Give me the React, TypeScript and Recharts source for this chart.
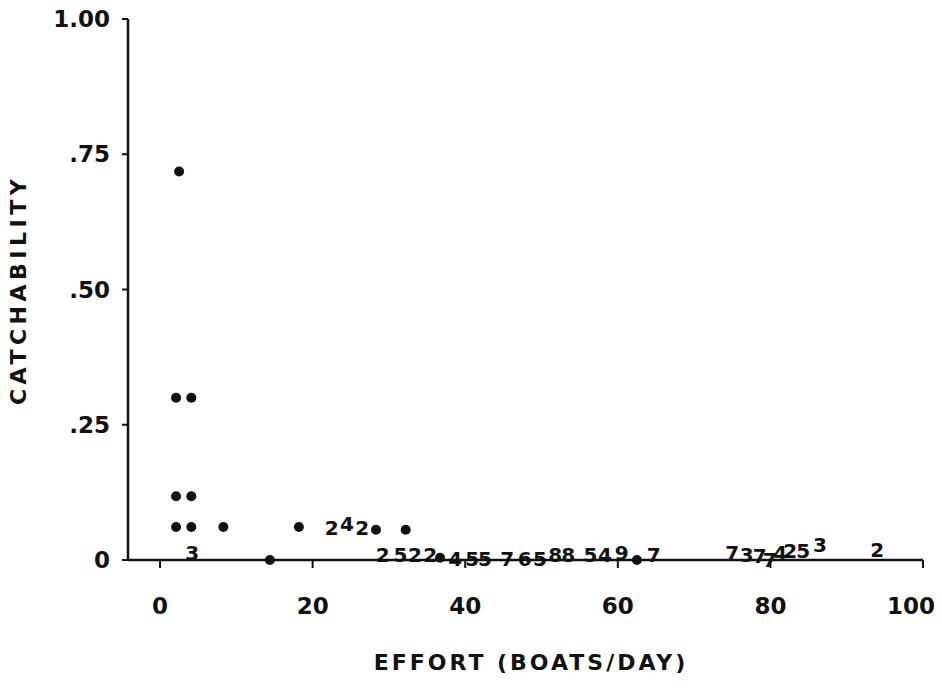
import React from 'react';
import { ScatterChart, Scatter, XAxis, YAxis, Label } from 'recharts';

// plain dots (single observations)
const dotEffort = [2.5, 2.1, 4.1, 2.1, 4.1, 2.1, 4.1, 8.3, 18.2, 14.4, 28.3, 32.2, 36.7, 62.5];
const dotCatch = [0.718, 0.3, 0.3, 0.118, 0.118, 0.061, 0.061, 0.061, 0.061, 0.0, 0.056, 0.056, 0.004, 0.0];

// printed counts of overlapping observations
const countEffort = [
  4.2, 22.5, 24.5, 26.5, 29.2, 31.5, 33.4, 35.4, 38.7, 40.9, 42.6, 45.5, 47.8, 49.8, 51.8, 53.5,
  56.4, 58.3, 60.5, 64.7, 75.0, 76.9, 78.6, 79.9, 81.3, 82.6, 84.3, 86.5, 94.0
];
const countCatch = [
  0.013, 0.059, 0.067, 0.059, 0.009, 0.009, 0.009, 0.009, 0.002, 0.002, 0.002, 0.002, 0.002, 0.002,
  0.009, 0.009, 0.009, 0.009, 0.013, 0.009, 0.013, 0.01, 0.008, 0.0, 0.013, 0.016, 0.016, 0.028, 0.019
];
const countLabel = [
  '3', '2', '4', '2', '2', '5', '2', '2', '4', '5', '5', '7', '6', '5', '8', '8', '5', '4', '9', '7',
  '7', '3', '7', '7', '4', '2', '5', '3', '2'
];

const xTicks = [0, 20, 40, 60, 80, 100];
const yTicks = [0, 0.25, 0.5, 0.75, 1];

const dots = dotEffort.map((effort, i) => ({ effort, catchability: dotCatch[i] }));
const counts = countEffort.map((effort, i) => ({
  effort,
  catchability: countCatch[i],
  label: countLabel[i]
}));

const FONT = '"DejaVu Sans", "Liberation Sans", sans-serif';
const INK = '#111';

const formatY = (v: number) => (v === 0 ? '0' : v === 1 ? '1.00' : v.toFixed(2).replace(/^0/, ''));

const DotShape = (props: any) => {
  const { cx, cy } = props;
  return <circle cx={cx} cy={cy} r={5} fill={INK} />;
};

const CountShape = (props: any) => {
  const { cx, cy, payload } = props;
  return (
    <text
      x={cx}
      y={cy}
      textAnchor="middle"
      dominantBaseline="central"
      fontFamily={FONT}
      fontWeight={700}
      fontSize={20}
      fill={INK}
    >
      {payload.label}
    </text>
  );
};

// last label sits flush left of the page edge, like the typed original
const XTick = (props: any) => {
  const { x, y, payload } = props;
  const last = payload.value === xTicks[xTicks.length - 1];
  return (
    <text
      x={last ? x + 12 : x}
      y={y + 8}
      textAnchor={last ? 'end' : 'middle'}
      dominantBaseline="central"
      fontFamily={FONT}
      fontWeight={700}
      fontSize={23}
      fill={INK}
    >
      {payload.value}
    </text>
  );
};

export default function App() {
  return (
    <div style={{ position: 'absolute', left: 0, top: 0, background: '#fff' }}>
      <ScatterChart width={942} height={690} margin={{ top: 19, right: 19, bottom: 0, left: 0 }}>
        <XAxis
          type="number"
          dataKey="effort"
          domain={[-4.2, 100]}
          ticks={xTicks}
          interval={0}
          tickSize={8}
          tickMargin={30}
          height={130}
          axisLine={{ stroke: INK, strokeWidth: 2.5 }}
          tickLine={{ stroke: INK, strokeWidth: 2 }}
          tick={<XTick />}
        >
          <Label
            value="EFFORT (BOATS/DAY)"
            content={() => (
              <text
                x={531}
                y={662}
                textAnchor="middle"
                dominantBaseline="central"
                fontFamily={FONT}
                fontWeight={700}
                fontSize={22}
                letterSpacing={3}
                fill={INK}
              >
                EFFORT (BOATS/DAY)
              </text>
            )}
          />
        </XAxis>
        <YAxis
          type="number"
          dataKey="catchability"
          domain={[0, 1]}
          ticks={yTicks}
          interval={0}
          width={128}
          tickSize={6}
          tickMargin={12}
          tickFormatter={formatY}
          axisLine={{ stroke: INK, strokeWidth: 2.5 }}
          tickLine={{ stroke: INK, strokeWidth: 2 }}
          tick={{ fill: INK, fontSize: 23, fontFamily: FONT, fontWeight: 700 }}
        >
          <Label
            value="CATCHABILITY"
            content={() => (
              <text
                x={18}
                y={290}
                transform="rotate(-90 18 290)"
                textAnchor="middle"
                dominantBaseline="central"
                fontFamily={FONT}
                fontWeight={700}
                fontSize={22}
                letterSpacing={4.5}
                fill={INK}
              >
                CATCHABILITY
              </text>
            )}
          />
        </YAxis>
        <Scatter data={dots} shape={DotShape} isAnimationActive={false} />
        <Scatter data={counts} shape={CountShape} isAnimationActive={false} />
      </ScatterChart>
    </div>
  );
}
